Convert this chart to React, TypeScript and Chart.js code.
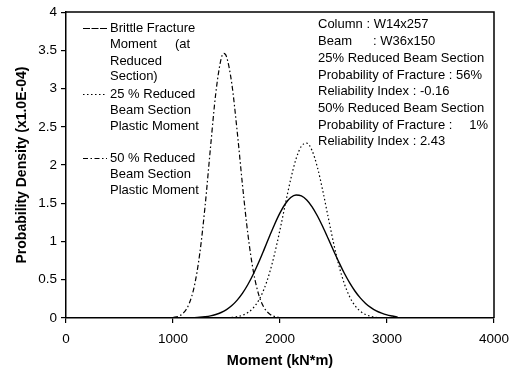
import React, { useEffect, useRef } from "react";
import { Chart, registerables } from "chart.js";

Chart.register(...registerables);

// Brittle fracture moment (solid)
const brittleX = [1000, 1050, 1100, 1150, 1200, 1250, 1300, 1350, 1400, 1450, 1500, 1550, 1600, 1650, 1700, 1750, 1800, 1850, 1900, 1950, 2000, 2050, 2100, 2150, 2200, 2250, 2300, 2350, 2400, 2450, 2500, 2550, 2600, 2650, 2700, 2750, 2800, 2850, 2900, 2950, 3000, 3050, 3100];
const brittleY = [0.0004, 0.0008, 0.0016, 0.003, 0.0055, 0.0098, 0.017, 0.028, 0.046, 0.072, 0.11, 0.163, 0.234, 0.325, 0.438, 0.572, 0.725, 0.891, 1.062, 1.227, 1.375, 1.494, 1.575, 1.609, 1.597, 1.544, 1.454, 1.334, 1.193, 1.039, 0.882, 0.73, 0.588, 0.462, 0.353, 0.263, 0.191, 0.135, 0.093, 0.063, 0.041, 0.026, 0.012];

// 25 % reduced beam section plastic moment (dotted)
const rbs25X = [1100, 1200, 1300, 1400, 1450, 1500, 1550, 1600, 1650, 1700, 1750, 1800, 1850, 1900, 1950, 2000, 2050, 2100, 2150, 2200, 2250, 2300, 2350, 2400, 2450, 2500, 2550, 2600, 2650, 2700, 2750, 2800, 2850, 2900];
const rbs25Y = [0, 0, 0.0001, 0.0005, 0.0014, 0.0034, 0.008, 0.0175, 0.036, 0.071, 0.131, 0.229, 0.375, 0.579, 0.842, 1.154, 1.49, 1.814, 2.08, 2.247, 2.287, 2.189, 1.968, 1.663, 1.32, 0.984, 0.689, 0.453, 0.28, 0.163, 0.089, 0.045, 0.022, 0.01];

// 50 % reduced beam section plastic moment (dash-dot)
const rbs50X = [1000, 1050, 1100, 1150, 1200, 1250, 1300, 1350, 1400, 1450, 1475, 1500, 1550, 1600, 1650, 1700, 1750, 1800, 1850, 1900, 1950, 2000];
const rbs50Y = [0.0067, 0.023, 0.07, 0.184, 0.421, 0.841, 1.465, 2.223, 2.941, 3.391, 3.46, 3.418, 3.059, 2.438, 1.731, 1.095, 0.617, 0.309, 0.138, 0.055, 0.02, 0.006];

const xTicks = [0, 1000, 2000, 3000, 4000];
const yTicks = [0, 0.5, 1, 1.5, 2, 2.5, 3, 3.5, 4];

const legendLines = [
  "Brittle Fracture",
  "Moment",
  "Reduced",
  "Section)",
  "25 % Reduced",
  "Beam Section",
  "Plastic Moment",
  "50 % Reduced",
  "Beam Section",
  "Plastic Moment",
];

const infoLines = [
  "Column : W14x257",
  "Beam",
  "25% Reduced Beam Section",
  "Probability of Fracture : 56%",
  "Reliability Index : -0.16",
  "50% Reduced Beam Section",
  "Probability of Fracture :",
  "Reliability Index : 2.43",
];

const FONT = '"Liberation Sans", Arial, Helvetica, sans-serif';

function pts(xs: number[], ys: number[]) {
  return xs.map((x, i) => ({ x, y: ys[i] }));
}

const overlay = {
  id: "overlay",
  afterDatasetsDraw(chart: any) {
    const { ctx, chartArea } = chart;
    ctx.save();
    ctx.strokeStyle = "#000";
    ctx.lineWidth = 1.5;
    ctx.beginPath();
    ctx.moveTo(chartArea.left, chartArea.top);
    ctx.lineTo(chartArea.right, chartArea.top);
    ctx.lineTo(chartArea.right, chartArea.bottom);
    ctx.stroke();

    ctx.lineWidth = 1;
    const sample = (y: number, dash: number[]) => {
      ctx.setLineDash(dash);
      ctx.beginPath();
      ctx.moveTo(83, y);
      ctx.lineTo(107, y);
      ctx.stroke();
    };
    sample(28.5, [7, 1.5]);
    sample(94.5, [1.5, 2.5]);
    sample(158.5, [5, 2.5, 1.5, 2.5]);
    ctx.setLineDash([]);

    ctx.fillStyle = "#000";
    ctx.font = `13px ${FONT}`;
    ctx.textBaseline = "middle";
    ctx.textAlign = "left";
    const ly = [28, 44, 61, 76, 94, 110, 126, 158, 174, 190];
    legendLines.forEach((t, i) => ctx.fillText(t, 110, ly[i]));
    ctx.fillText("(at", 175, 44);

    const iy = [24, 41, 58, 75, 91, 108, 125, 141];
    infoLines.forEach((t, i) => ctx.fillText(t, 318, iy[i]));
    ctx.fillText(": W36x150", 373, 41);
    ctx.textAlign = "right";
    ctx.fillText("1%", 488, 125);
    ctx.restore();
  },
};

export default function App() {
  const ref = useRef<HTMLCanvasElement>(null);
  useEffect(() => {
    document.body.style.margin = "0";
    const chart = new Chart(ref.current!, {
      type: "line",
      data: {
        datasets: [
          {
            label: "Brittle Fracture Moment (at Reduced Section)",
            data: pts(brittleX, brittleY),
            borderColor: "#000",
            borderWidth: 1.4,
            pointRadius: 0,
            fill: false,
            cubicInterpolationMode: "monotone",
          },
          {
            label: "25 % Reduced Beam Section Plastic Moment",
            data: pts(rbs25X, rbs25Y),
            borderColor: "#000",
            borderWidth: 1.2,
            borderDash: [1.5, 2.5],
            pointRadius: 0,
            fill: false,
            cubicInterpolationMode: "monotone",
          },
          {
            label: "50 % Reduced Beam Section Plastic Moment",
            data: pts(rbs50X, rbs50Y),
            borderColor: "#000",
            borderWidth: 1.2,
            borderDash: [5, 2.5, 1.5, 2.5],
            pointRadius: 0,
            fill: false,
            cubicInterpolationMode: "monotone",
          },
        ],
      },
      options: {
        animation: false,
        responsive: true,
        maintainAspectRatio: false,
        layout: { padding: { top: 12, right: 25, left: 0, bottom: 0 } },
        plugins: { legend: { display: false }, tooltip: { enabled: false } },
        scales: {
          x: {
            type: "linear",
            min: 0,
            max: 4000,
            afterBuildTicks: (s: any) => {
              s.ticks = xTicks.map((v) => ({ value: v }));
            },
            afterFit: (s: any) => {
              s.height = 56;
            },
            ticks: {
              color: "#000",
              font: { family: FONT, size: 13.5 },
              padding: 8,
              maxRotation: 0,
              callback: (v: any) => String(v),
            },
            grid: { display: true, drawOnChartArea: false, drawTicks: true, tickLength: 5, color: "#000", lineWidth: 1.2 },
            border: { display: true, color: "#000", width: 1.5 },
            title: {
              display: true,
              text: "Moment (kN*m)",
              color: "#000",
              font: { family: FONT, size: 14.5, weight: "bold" },
              padding: { top: 0, bottom: 4 },
            },
          },
          y: {
            type: "linear",
            min: 0,
            max: 4,
            afterBuildTicks: (s: any) => {
              s.ticks = yTicks.map((v) => ({ value: v }));
            },
            afterFit: (s: any) => {
              s.width = 66;
            },
            ticks: {
              color: "#000",
              font: { family: FONT, size: 13.5 },
              padding: 4,
              callback: (v: any) => String(v),
            },
            grid: { display: true, drawOnChartArea: false, drawTicks: true, tickLength: 5, color: "#000", lineWidth: 1.2 },
            border: { display: true, color: "#000", width: 1.5 },
            title: {
              display: true,
              text: "Probability Density (x1.0E-04)",
              color: "#000",
              font: { family: FONT, size: 14, weight: "bold" },
              padding: { top: 14, bottom: 0 },
            },
          },
        },
      },
      plugins: [overlay],
    });
    return () => chart.destroy();
  }, []);
  return (
    <div style={{ position: "relative", width: 519, height: 374 }}>
      <canvas ref={ref} />
    </div>
  );
}
